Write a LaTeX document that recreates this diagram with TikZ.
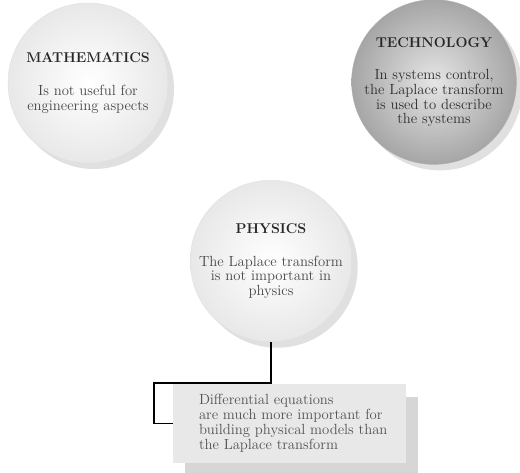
\documentclass[tikz,border=0pt]{standalone}
\usepackage{fontspec}
\usetikzlibrary{shadows}
\newcommand\mytitlefont{\fontsize{14.2}{15}\selectfont\bfseries\color{black!85}}
\begin{document}
\begin{tikzpicture}[x=1pt,y=-1pt,
  bubble/.style={circle, minimum size=160pt, inner sep=0pt, align=center,
    font=\fontsize{14.7}{14.6}\selectfont, text=black!72, draw=black!12, line width=0.4pt,
    shading=radial, inner color=white, outer color=black!9,
    drop shadow={shadow xshift=6pt, shadow yshift=-6pt, fill=black!12, opacity=1}},
  darkbubble/.style={bubble, inner color=black!10, outer color=black!35, draw=black!30, text=black!82},
  notebox/.style={rectangle, minimum width=233pt, minimum height=79pt, inner sep=0pt,
    fill=black!9, drop shadow={shadow xshift=12pt, shadow yshift=-13pt, fill=black!16, opacity=1}},
  notetext/.style={align=left, inner sep=0pt, text=black!68, font=\fontsize{14.7}{15}\selectfont},
  conn/.style={draw=black, line width=1.2pt}
]
\useasboundingbox (0,0) rectangle (520,472);
\node[bubble] (math) at (88,83) {{\mytitlefont MATHEMATICS}\\[18pt]Is not useful for\\engineering aspects};
\node[darkbubble] (tech) at (434,82) {{\mytitlefont TECHNOLOGY}\\[18pt]In systems control,\\the Laplace transform\\is used to describe\\the systems};
\node[bubble] (phys) at (271,261) {{\mytitlefont PHYSICS}\\[18pt]The Laplace transform\\is not important in\\physics};
\node[notebox] (box) at (289.5,423.5) {};
\node[notetext, anchor=west] (boxtext) at ([xshift=26pt]box.west) {Differential equations\\are much more important for\\building physical models than\\the Laplace transform};
\coordinate (bend) at (154,383);
\draw[conn] (phys.south) |- (bend) |- (box.west);
\end{tikzpicture}
\end{document}
